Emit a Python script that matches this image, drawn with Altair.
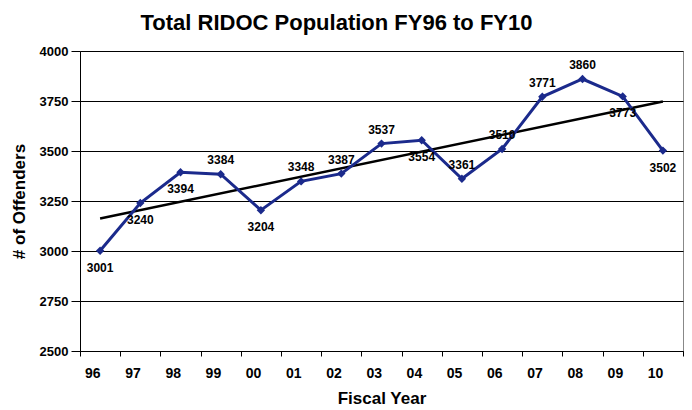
import altair as alt
import pandas as pd

years = ["96", "97", "98", "99", "00", "01", "02", "03", "04", "05", "06", "07", "08", "09", "10"]
population = [3001, 3240, 3394, 3384, 3204, 3348, 3387, 3537, 3554, 3361, 3510, 3771, 3860, 3773, 3502]
label_side = ["below", "below", "below", "above", "below", "above", "above", "above",
              "below", "above", "above", "above", "above", "below", "below"]

df = pd.DataFrame({
    "year": years,
    "idx": list(range(len(years))),
    "value": population,
    "side": label_side,
})

FONT = "Liberation Sans"
NAVY = "#1B2A8C"

x_enc = alt.X("year:O", sort=years, title="Fiscal Year",
              scale=alt.Scale(paddingInner=0, paddingOuter=0),
              axis=alt.Axis(labelAngle=0, tickBand="extent", grid=False,
                            domainColor="black", tickColor="black", tickSize=5,
                            labelFontSize=14, labelPadding=17, titlePadding=10))
y_enc = alt.Y("value:Q", title="# of Offenders",
              scale=alt.Scale(domain=[2500, 4000], nice=False, zero=False),
              axis=alt.Axis(values=[2500, 2750, 3000, 3250, 3500, 3750, 4000], format="d",
                            grid=True, gridColor="black", gridOpacity=1,
                            domainColor="black", tickColor="black", tickSize=9,
                            labelFontSize=13, labelPadding=3, titlePadding=11))

base = alt.Chart(df)

line = base.mark_line(color=NAVY, strokeWidth=3).encode(x=x_enc, y=y_enc)
points = base.mark_point(shape="diamond", filled=True, color=NAVY, size=70, opacity=1).encode(x=x_enc, y=y_enc)

year_arr = "[" + ",".join(f"'{y}'" for y in years) + "]"
trend = base.transform_regression("idx", "value").transform_calculate(
    year=f"{year_arr}[round(datum.idx)]"
).mark_line(color="black", strokeWidth=2.5).encode(
    x=alt.X("year:O", sort=years), y="value:Q")

above = base.transform_filter("datum.side == 'above'").mark_text(
    dy=-14, font=FONT, fontSize=12, fontWeight="bold", color="black"
).encode(x=alt.X("year:O", sort=years), y="value:Q", text="value:Q")
below = base.transform_filter("datum.side == 'below'").mark_text(
    dy=17, font=FONT, fontSize=12, fontWeight="bold", color="black"
).encode(x=alt.X("year:O", sort=years), y="value:Q", text="value:Q")

chart = alt.layer(trend, line, points, above, below).properties(
    width=603, height=300,
    title=alt.TitleParams("Total RIDOC Population FY96 to FY10", font=FONT, fontSize=22,
                          fontWeight="bold", anchor="middle", frame="group", dx=-45, offset=10),
    padding={"left": 2, "top": 4, "right": 0, "bottom": 0},
).configure_view(stroke="#888888", strokeWidth=1).configure_axis(
    labelFont=FONT, labelFontWeight="bold", labelColor="black",
    titleFont=FONT, titleFontSize=17, titleFontWeight="bold", titleColor="black",
)

chart.save("out.html", embed_options={"renderer": "svg", "actions": False})
